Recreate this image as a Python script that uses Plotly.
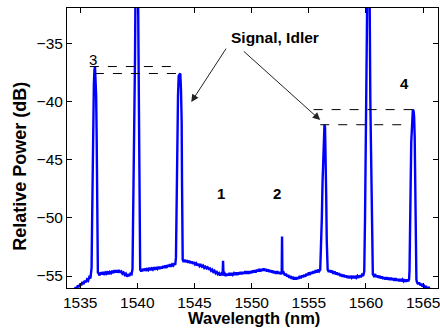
import plotly.graph_objects as go

# ---------------- data ----------------
# The spectrum is stored as consecutive segments (noisy floor pieces and peaks),
# concatenated in wavelength order.

floor_a_nm = [1534.5, 1534.6, 1534.7, 1534.8, 1534.9, 1535.0, 1535.1, 1535.2, 1535.3, 1535.4,
              1535.5, 1535.6, 1535.7, 1535.8, 1535.9, 1535.95]
floor_a_db = [-56.3, -55.95, -56.1, -55.8, -55.95, -55.65, -55.8, -55.5, -55.7, -55.4,
              -55.55, -55.3, -55.4, -55.1, -55.2, -54.9]

peak3_nm = [1536.0, 1536.05, 1536.1, 1536.15, 1536.2, 1536.25, 1536.3, 1536.35, 1536.4, 1536.45, 1536.5, 1536.55]
peak3_db = [-54.3, -50.0, -45.0, -39.0, -38.5, -37.3, -37.0, -38.3, -39.5, -43.6, -52.5, -54.7]

floor_b_nm = [1536.6, 1536.7, 1536.8, 1536.9, 1537.0, 1537.1, 1537.2, 1537.3, 1537.4, 1537.5,
              1537.6, 1537.7, 1537.8, 1537.9, 1538.0, 1538.1, 1538.2, 1538.3, 1538.4, 1538.5,
              1538.6, 1538.7, 1538.8, 1538.9, 1539.0, 1539.1, 1539.2, 1539.3, 1539.4, 1539.5, 1539.58]
floor_b_db = [-54.75, -54.95, -54.7, -54.85, -54.65, -54.9, -54.7, -54.8, -54.6, -54.85,
              -54.65, -54.75, -54.55, -54.75, -54.5, -54.7, -54.5, -54.7, -54.55, -54.65,
              -54.6, -54.8, -54.7, -54.9, -54.8, -55.05, -54.85, -55.0, -54.8, -54.85, -54.4]

pump1_nm = [1539.62, 1539.68, 1539.74, 1539.8, 1539.86, 1539.92, 1540.0, 1540.06, 1540.1, 1540.14, 1540.18, 1540.22]
pump1_db = [-51.3, -46.0, -43.4, -36.1, -28.0, -20.0, -20.0, -30.0, -36.5, -39.0, -50.3, -54.2]

floor_c_nm = [1540.25, 1540.35, 1540.45, 1540.55, 1540.65, 1540.75, 1540.85, 1540.95, 1541.05, 1541.15,
              1541.25, 1541.35, 1541.45, 1541.55, 1541.65, 1541.75, 1541.85, 1541.95, 1542.05, 1542.15,
              1542.25, 1542.35, 1542.45, 1542.55, 1542.65, 1542.75, 1542.85, 1542.95, 1543.05, 1543.15,
              1543.25, 1543.32]
floor_c_db = [-54.45, -54.6, -54.4, -54.55, -54.35, -54.55, -54.4, -54.5, -54.3, -54.5,
              -54.35, -54.45, -54.25, -54.45, -54.3, -54.4, -54.2, -54.4, -54.2, -54.35,
              -54.15, -54.3, -54.1, -54.3, -54.05, -54.2, -54.0, -54.2, -54.0, -54.1,
              -53.9, -54.05]

signal_l_nm = [1543.38, 1543.45, 1543.5, 1543.56, 1543.62, 1543.7, 1543.76, 1543.82, 1543.88, 1543.91, 1543.94]
signal_l_db = [-53.4, -48.0, -41.0, -39.5, -37.8, -37.6, -37.6, -39.0, -41.7, -47.0, -53.3]

floor_d_nm = [1543.97, 1544.05, 1544.15, 1544.25, 1544.35, 1544.45, 1544.55, 1544.65, 1544.75, 1544.85,
              1544.95, 1545.05, 1545.15, 1545.25, 1545.35, 1545.45, 1545.55, 1545.65, 1545.75, 1545.85,
              1545.95, 1546.05, 1546.15, 1546.25, 1546.35, 1546.45, 1546.55, 1546.65, 1546.75, 1546.85,
              1546.95, 1547.05, 1547.15, 1547.25, 1547.35, 1547.46, 1547.5, 1547.54, 1547.65, 1547.75,
              1547.85, 1547.95, 1548.05, 1548.15, 1548.25, 1548.35, 1548.45, 1548.55, 1548.65, 1548.75,
              1548.85, 1548.95, 1549.05, 1549.15, 1549.25, 1549.35, 1549.45, 1549.55, 1549.65, 1549.75,
              1549.85, 1549.95, 1550.05, 1550.15, 1550.25, 1550.35, 1550.45, 1550.55, 1550.65, 1550.75,
              1550.85, 1550.95, 1551.05, 1551.15, 1551.25, 1551.35, 1551.45, 1551.55, 1551.65, 1551.75,
              1551.85, 1551.95, 1552.05, 1552.15, 1552.25, 1552.35, 1552.45, 1552.55, 1552.63, 1552.66,
              1552.69, 1552.8, 1552.9, 1553.0, 1553.1, 1553.2, 1553.3, 1553.4, 1553.5, 1553.6,
              1553.7, 1553.8, 1553.9, 1554.0, 1554.1, 1554.2, 1554.3, 1554.4, 1554.5, 1554.6,
              1554.7, 1554.8, 1554.9, 1555.0, 1555.1, 1555.2, 1555.3, 1555.4, 1555.5, 1555.6,
              1555.7, 1555.8, 1555.9, 1556.0]
floor_d_db = [-53.6, -53.8, -53.6, -53.8, -53.65, -53.85, -53.7, -53.9, -53.75, -53.95,
              -53.8, -54.0, -53.9, -54.1, -53.95, -54.15, -54.05, -54.2, -54.1, -54.3,
              -54.2, -54.35, -54.25, -54.4, -54.35, -54.55, -54.45, -54.65, -54.55, -54.75,
              -54.65, -54.85, -54.75, -54.95, -54.8, -54.9, -53.7, -54.95, -54.8, -55.0,
              -54.8, -54.95, -54.75, -54.95, -54.75, -54.9, -54.75, -54.9, -54.7, -54.9,
              -54.7, -54.85, -54.65, -54.85, -54.65, -54.8, -54.6, -54.8, -54.6, -54.8,
              -54.6, -54.75, -54.55, -54.7, -54.5, -54.7, -54.45, -54.6, -54.4, -54.6,
              -54.4, -54.55, -54.35, -54.55, -54.4, -54.6, -54.45, -54.65, -54.5, -54.7,
              -54.55, -54.75, -54.6, -54.8, -54.6, -54.8, -54.65, -54.85, -54.7, -51.6,
              -54.8, -54.7, -54.95, -54.8, -55.05, -54.9, -55.15, -55.0, -55.25, -55.05,
              -55.3, -55.1, -55.3, -55.1, -55.25, -55.0, -55.2, -54.95, -55.1, -54.9,
              -55.05, -54.8, -54.95, -54.7, -54.9, -54.65, -54.8, -54.6, -54.75, -54.5,
              -54.7, -54.45, -54.6, -54.45]

signal_r_nm = [1556.08, 1556.14, 1556.2, 1556.26, 1556.32, 1556.37, 1556.42, 1556.47, 1556.52, 1556.57, 1556.62]
signal_r_db = [-52.5, -50.0, -47.0, -45.3, -42.6, -42.0, -42.2, -44.0, -48.0, -52.0, -54.2]

floor_e_nm = [1556.65, 1556.75, 1556.85, 1556.95, 1557.05, 1557.15, 1557.25, 1557.35, 1557.45, 1557.55,
              1557.65, 1557.75, 1557.85, 1557.95, 1558.05, 1558.15, 1558.25, 1558.35, 1558.45, 1558.55,
              1558.65, 1558.75, 1558.85, 1558.95, 1559.05, 1559.15, 1559.25, 1559.35, 1559.45, 1559.55,
              1559.65, 1559.75, 1559.85]
floor_e_db = [-54.45, -54.65, -54.5, -54.7, -54.55, -54.8, -54.6, -54.85, -54.7, -54.9,
              -54.75, -55.0, -54.85, -55.05, -54.9, -55.1, -54.95, -55.15, -55.0, -55.2,
              -55.0, -55.15, -55.0, -55.2, -55.0, -55.15, -55.0, -55.15, -54.95, -55.1,
              -54.9, -55.0, -54.6]

pump2_nm = [1559.92, 1559.98, 1560.04, 1560.1, 1560.16, 1560.22, 1560.28, 1560.32, 1560.38, 1560.44, 1560.5, 1560.55]
pump2_db = [-49.8, -44.0, -37.9, -34.1, -25.0, -20.0, -25.0, -34.2, -39.8, -44.0, -50.2, -54.5]

floor_f_nm = [1560.6, 1560.7, 1560.8, 1560.9, 1561.0, 1561.1, 1561.2, 1561.3, 1561.4, 1561.5,
              1561.6, 1561.7, 1561.8, 1561.9, 1562.0, 1562.1, 1562.2, 1562.3, 1562.4, 1562.5,
              1562.6, 1562.7, 1562.8, 1562.9, 1563.0, 1563.1, 1563.2, 1563.3, 1563.4, 1563.5,
              1563.6, 1563.7, 1563.77]
floor_f_db = [-54.85, -55.0, -54.85, -55.1, -54.95, -55.15, -55.0, -55.2, -55.05, -55.25,
              -55.1, -55.3, -55.1, -55.3, -55.15, -55.35, -55.15, -55.35, -55.2, -55.4,
              -55.2, -55.4, -55.25, -55.45, -55.25, -55.45, -55.3, -55.45, -55.3, -55.5,
              -55.3, -55.45, -55.3]

peak4_nm = [1563.81, 1563.86, 1563.91, 1563.96, 1564.03, 1564.1, 1564.16, 1564.21, 1564.26, 1564.31, 1564.36, 1564.41]
peak4_db = [-54.5, -52.0, -47.0, -43.5, -41.0, -40.7, -40.8, -41.3, -43.0, -48.0, -53.5, -55.3]

floor_g_nm = [1564.45, 1564.55, 1564.65, 1564.75, 1564.85, 1564.95, 1565.05, 1565.15, 1565.25, 1565.35, 1565.5, 1565.7]
floor_g_db = [-55.5, -55.7, -55.55, -55.8, -55.65, -55.9, -55.75, -56.0, -55.85, -56.1, -56.0, -56.3]

x_ticks = [1535, 1540, 1545, 1550, 1555, 1560, 1565]
y_ticks = [-55, -50, -45, -40, -35]

# dashed reference levels: start wavelength, end wavelength, level (dB)
dash_x0 = [1535.85, 1536.29, 1555.42, 1556.0]
dash_x1 = [1543.39, 1543.83, 1564.11, 1563.68]
dash_y = [-37.0, -37.6, -40.7, -42.0]

# peak labels
label_text = ["3", "4", "1", "2"]
label_x = [1536.14, 1563.39, 1547.33, 1552.2]
label_y = [-36.36, -38.42, -47.87, -47.87]
label_bold = [False, True, True, True]

# ---------------- figure ----------------
segments_nm = [floor_a_nm, peak3_nm, floor_b_nm, pump1_nm, floor_c_nm, signal_l_nm, floor_d_nm,
               signal_r_nm, floor_e_nm, pump2_nm, floor_f_nm, peak4_nm, floor_g_nm]
segments_db = [floor_a_db, peak3_db, floor_b_db, pump1_db, floor_c_db, signal_l_db, floor_d_db,
               signal_r_db, floor_e_db, pump2_db, floor_f_db, peak4_db, floor_g_db]
wavelength_nm = [v for seg in segments_nm for v in seg]
power_db = [v for seg in segments_db for v in seg]

FONT = "Liberation Sans, Arial, sans-serif"

fig = go.Figure()
fig.add_trace(go.Scatter(
    x=wavelength_nm, y=power_db, mode="lines",
    line=dict(color="#0000ff", width=2.4),
    hoverinfo="skip", showlegend=False,
))

for x0, x1, yv in zip(dash_x0, dash_x1, dash_y):
    fig.add_shape(type="line", xref="x", yref="y", x0=x0, x1=x1, y0=yv, y1=yv,
                  line=dict(color="black", width=1, dash="dash"))

for t, lx, ly, b in zip(label_text, label_x, label_y, label_bold):
    fig.add_annotation(x=lx, y=ly, xref="x", yref="y", showarrow=False,
                       text=f"<b>{t}</b>" if b else t,
                       font=dict(family=FONT, size=15, color="black"))

fig.add_annotation(x=1552.05, y=-34.49, xref="x", yref="y", showarrow=False,
                   text="<b>Signal, Idler</b>",
                   font=dict(family=FONT, size=15.5, color="black"))

# arrows
fig.add_annotation(x=1544.72, y=-40.05, ax=1547.85, ay=-35.33, xref="x", yref="y",
                   axref="x", ayref="y", text="", showarrow=True, arrowhead=2,
                   arrowsize=1.5, arrowwidth=1, arrowcolor="#222222")
fig.add_annotation(x=1556.0, y=-41.6, ax=1549.18, ay=-35.58, xref="x", yref="y",
                   axref="x", ayref="y", text="", showarrow=True, arrowhead=2,
                   arrowsize=1.5, arrowwidth=1, arrowcolor="#222222")

# axis titles
fig.add_annotation(x=0.5027, y=-0.106, xref="paper", yref="paper", showarrow=False,
                   text="<b>Wavelength (nm)</b>", yanchor="middle",
                   font=dict(family=FONT, size=16.5, color="black"))
fig.add_annotation(x=-0.126, y=0.434, xref="paper", yref="paper", showarrow=False,
                   text="<b>Relative Power (dB)</b>", textangle=-90,
                   xanchor="center", yanchor="middle",
                   font=dict(family=FONT, size=18, color="black"))

fig.update_layout(
    width=440, height=331,
    margin=dict(l=67, r=0, t=8, b=43),
    paper_bgcolor="white", plot_bgcolor="white",
    font=dict(family=FONT, size=15.5, color="black"),
    xaxis=dict(range=[1533.85, 1566.3], tickvals=x_ticks, ticks="inside", ticklen=5,
               tickcolor="black", showline=True, linecolor="black", linewidth=1,
               mirror="ticks", showgrid=False, zeroline=False, ticklabeloverflow="allow"),
    yaxis=dict(range=[-56.03, -31.97], tickvals=y_ticks, ticks="inside", ticklen=5,
               tickcolor="black", showline=True, linecolor="black", linewidth=1,
               mirror="ticks", showgrid=False, zeroline=False),
)

fig.write_html("out.html")
